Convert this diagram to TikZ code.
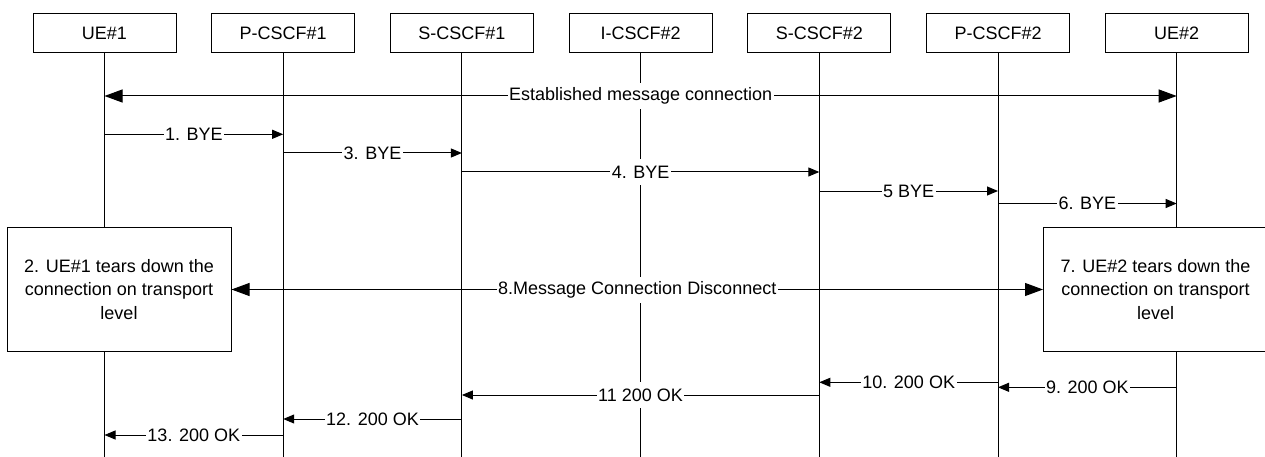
\documentclass[tikz,border=0pt]{standalone}
\usepackage{fontspec}
\setmainfont{Liberation Sans}
\usetikzlibrary{arrows.meta}

\begin{document}
\begin{tikzpicture}[x=1pt, y=-1pt, font=\fontsize{18}{23.5}\selectfont]

    % Stili globali
    \tikzset{
        entity/.style={draw, line width=1pt, minimum width=143pt, minimum height=39pt, inner sep=0pt},
        action/.style={draw, fill=white, line width=1pt, align=center, minimum width=224pt, minimum height=124pt},
        lifeline/.style={line width=1pt},
        msg/.style={line width=1pt, -{Triangle[length=11pt, width=9pt]}},
        bigmsg/.style={line width=1pt, {Triangle[length=18pt, width=13pt]}-{Triangle[length=18pt, width=13pt]}},
        lbl/.style={fill=white, inner xsep=1.5pt, inner ysep=0pt, minimum height=26pt}
    }

    \useasboundingbox (0,0) rectangle (1265,457);

    % Entita' in alto (passo 178.7)
    \node[entity] (ue1)    at (104.5, 33.5) {UE\#1};
    \node[entity] (pcscf1) at (283.2, 33.5) {P-CSCF\#1};
    \node[entity] (scscf1) at (461.9, 33.5) {S-CSCF\#1};
    \node[entity] (icscf2) at (640.6, 33.5) {I-CSCF\#2};
    \node[entity] (scscf2) at (819.3, 33.5) {S-CSCF\#2};
    \node[entity] (pcscf2) at (998.0, 33.5) {P-CSCF\#2};
    \node[entity] (ue2)    at (1176.7, 33.5) {UE\#2};

    % Righe dei messaggi
    \coordinate (r0)  at (0, 96);
    \coordinate (r1)  at (0, 134.3);
    \coordinate (r3)  at (0, 153);
    \coordinate (r4)  at (0, 172);
    \coordinate (r5)  at (0, 191);
    \coordinate (r6)  at (0, 203.5);
    \coordinate (r10) at (0, 382.3);
    \coordinate (r9)  at (0, 387.3);
    \coordinate (r11) at (0, 395);
    \coordinate (r12) at (0, 419);
    \coordinate (r13) at (0, 435);
    \coordinate (rend) at (0, 457);

    % Linee di vita
    \draw[lifeline] (ue1.south) -- (ue1 |- rend);
    \draw[lifeline] (pcscf1.south) -- (pcscf1 |- rend);
    \draw[lifeline] (scscf1.south) -- (scscf1 |- rend);
    \draw[lifeline] (icscf2.south) -- (icscf2 |- rend);
    \draw[lifeline] (scscf2.south) -- (scscf2 |- rend);
    \draw[lifeline] (pcscf2.south) -- (pcscf2 |- rend);
    \draw[lifeline] (ue2.south) -- (ue2 |- rend);

    % Riquadri di chiusura del trasporto
    \node[action] (tear1) at (119, 289.5) {2. UE\#1 tears down the\\connection on transport\\level};
    \node[action] (tear2) at (1155.5, 289.5) {7. UE\#2 tears down the\\connection on transport\\level};

    % Connessione stabilita
    \draw[bigmsg] (ue1 |- r0) -- node[lbl] {Established message connection} (ue2 |- r0);

    % BYE
    \draw[msg] (ue1 |- r1) -- node[lbl] {1. BYE} (pcscf1 |- r1);
    \draw[msg] (pcscf1 |- r3) -- node[lbl] {3. BYE} (scscf1 |- r3);
    \draw[msg] (scscf1 |- r4) -- node[lbl] {4. BYE} (scscf2 |- r4);
    \draw[msg] (scscf2 |- r5) -- node[lbl] {5 BYE} (pcscf2 |- r5);
    \draw[msg] (pcscf2 |- r6) -- node[lbl] {6. BYE} (ue2 |- r6);

    % Disconnessione
    \draw[bigmsg] (tear1) -- node[lbl] {8.Message Connection Disconnect} (tear2);

    % 200 OK
    \draw[msg] (ue2 |- r9) -- node[lbl] {9. 200 OK} (pcscf2 |- r9);
    \draw[msg] (pcscf2 |- r10) -- node[lbl] {10. 200 OK} (scscf2 |- r10);
    \draw[msg] (scscf2 |- r11) -- node[lbl] {11 200 OK} (scscf1 |- r11);
    \draw[msg] (scscf1 |- r12) -- node[lbl] {12. 200 OK} (pcscf1 |- r12);
    \draw[msg] (pcscf1 |- r13) -- node[lbl] {13. 200 OK} (ue1 |- r13);

\end{tikzpicture}
\end{document}
